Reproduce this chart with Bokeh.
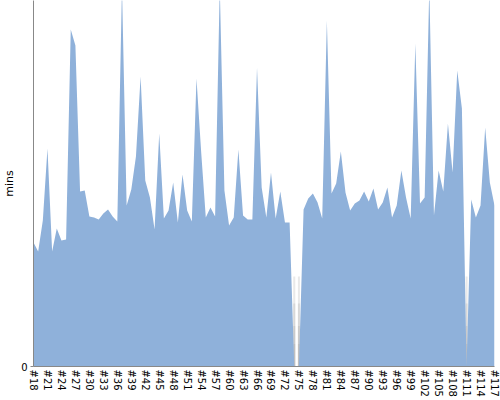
from bokeh.plotting import figure
from bokeh.models import ColumnDataSource, Range1d, FixedTicker
from bokeh.embed import file_html
from bokeh.resources import INLINE

# match numbers #18 .. #117
match_ids = list(range(18, 118))
# duration in minutes
durations = [
    124, 115, 146, 218, 115, 138, 126, 127, 337, 321,   # 18-27
    175, 176, 150, 149, 147, 153, 157, 150, 145, 380,   # 28-37
    161, 177, 210, 290, 186, 169, 137, 233, 148, 156,   # 38-47
    184, 144, 192, 156, 145, 288, 215, 149, 159, 150,   # 48-57
    380, 176, 141, 149, 217, 151, 147, 147, 299, 179,   # 58-67
    149, 194, 148, 175, 144, 144, 0, 0, 157, 168,       # 68-77
    173, 164, 148, 346, 173, 183, 215, 174, 156, 163,   # 78-87
    166, 175, 165, 178, 157, 164, 179, 149, 161, 196,   # 88-97
    169, 148, 323, 163, 169, 380, 151, 196, 175, 243,   # 98-107
    194, 296, 258, 0, 167, 149, 161, 239, 184, 161,     # 108-117
]
tick_ids = list(range(18, 118, 3))
tick_labels = {t: "#%d" % t for t in tick_ids}

FONT = "DejaVu Sans"

p = figure(frame_width=461, frame_height=366, output_backend="svg", toolbar_location=None,
           x_range=Range1d(18, 117), y_range=Range1d(0, 366),
           min_border_left=25, min_border_right=6, min_border_top=0, min_border_bottom=0)
p.outline_line_color = None
p.grid.grid_line_color = None
p.background_fill_color = "white"

src = ColumnDataSource(dict(x=match_ids, y=durations, y0=[0] * len(match_ids)))

# faint gray shading where the duration drops to zero (drawn beneath the area)
zero_x = [m for m, d in zip(match_ids, durations) if d == 0]
for frac in [1.0, 0.7, 0.45, 0.25]:
    p.segment(x0=zero_x, x1=zero_x, y0=[0] * len(zero_x), y1=[90 * frac] * len(zero_x),
              line_color="#9a9a9a", line_alpha=0.22, line_width=2)

p.varea(x="x", y1="y0", y2="y", source=src, fill_color="#8fb1da", fill_alpha=1.0)

xa = p.xaxis[0]
xa.ticker = FixedTicker(ticks=tick_ids)
xa.major_label_overrides = tick_labels
xa.major_label_orientation = "vertical"
xa.major_tick_line_color = None
xa.major_tick_out = 0
xa.major_tick_in = 0
xa.minor_tick_line_color = None
xa.minor_tick_out = 0
xa.minor_tick_in = 0
xa.axis_line_color = "#888888"
xa.major_label_text_font = FONT
xa.major_label_text_font_size = "10px"
xa.major_label_text_color = "#000000"
xa.major_label_standoff = 3

ya = p.yaxis[0]
ya.ticker = FixedTicker(ticks=[0])
ya.major_tick_line_color = "#888888"
ya.major_tick_out = 3
ya.major_tick_in = 0
ya.minor_tick_line_color = None
ya.axis_line_color = "#888888"
ya.major_label_text_font = FONT
ya.major_label_text_font_size = "10px"
ya.major_label_text_color = "#000000"
ya.major_label_standoff = 3
ya.axis_label = "mins"
ya.axis_label_text_font = FONT
ya.axis_label_text_font_size = "11px"
ya.axis_label_text_font_style = "normal"
ya.axis_label_text_color = "#000000"
ya.axis_label_standoff = 2

open("out.html", "w").write(file_html(p, INLINE))
